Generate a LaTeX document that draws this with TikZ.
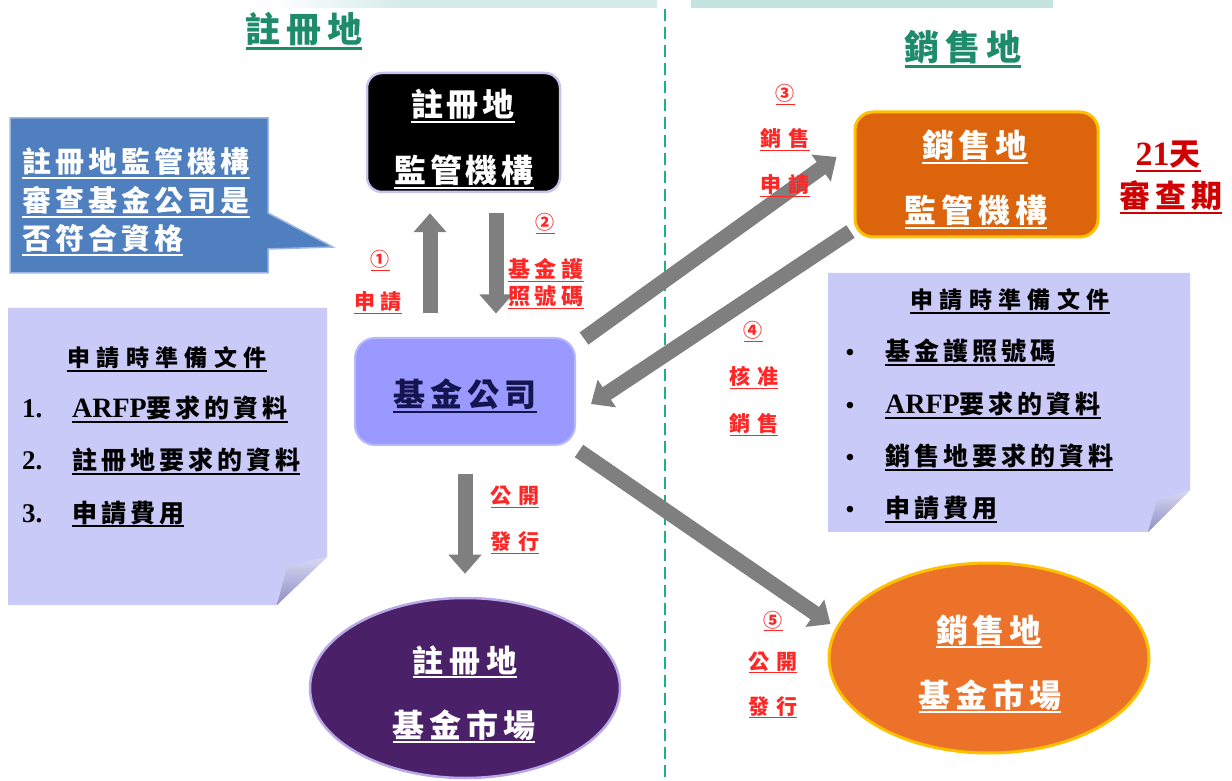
\documentclass[tikz,border=0pt]{standalone}
\usepackage{fontspec}
\setmainfont{Noto Sans CJK TC}
\newfontfamily\serifb{Liberation Serif}
\usetikzlibrary{arrows.meta,calc,shapes.geometric}
\definecolor{ttl}{HTML}{1E8C6B}
\definecolor{dashc}{HTML}{1DB085}
\definecolor{band}{HTML}{C4E4E1}
\definecolor{callb}{HTML}{4F7FBF}
\definecolor{callbd}{HTML}{9DB8E0}
\definecolor{notef}{HTML}{CACAF8}
\definecolor{flapl}{HTML}{D8D8F4}
\definecolor{flapd}{HTML}{8E8EC4}
\definecolor{fundf}{HTML}{9999FF}
\definecolor{fundd}{HTML}{B8B8FF}
\definecolor{fundt}{HTML}{141450}
\definecolor{oboxf}{HTML}{DC640C}
\definecolor{gold}{HTML}{FFC000}
\definecolor{oellf}{HTML}{EB7228}
\definecolor{purf}{HTML}{4A2068}
\definecolor{purd}{HTML}{B9A8E8}
\definecolor{regd}{HTML}{C9C3EE}
\definecolor{arrgray}{HTML}{7F7F7F}
\definecolor{lbred}{HTML}{FF2626}
\definecolor{dred}{HTML}{D00000}
\newcommand\fs[2]{\bfseries\fontsize{#1}{#1}\selectfont\addfontfeature{LetterSpace=#2}}
\newcommand\ul[2][0.06em]{\setbox0=\hbox{#2}\leavevmode\rlap{\copy0}\rule[-0.2em]{\wd0}{#1}}
\newcommand\latb[2]{{\serifb\bfseries\fontsize{#1}{#1}\selectfont #2}}
\tikzset{
  txt/.style={inner sep=0pt, anchor=base},
  txtw/.style={inner sep=0pt, anchor=base west},
  redl/.style={txt, text=lbred},
  bigarr/.style={draw=arrgray, line width=15pt, -{Triangle[width=32pt,length=19pt]}},
}
\begin{document}
\begin{tikzpicture}[x=1pt,y=1pt]
\fill[white] (0,0) rectangle (1232,780);
\useasboundingbox (0,0) rectangle (1232,780);
% top bands
\shade[left color=white, right color=band!70] (270,772) rectangle (400,780);
\fill[band!70] (400,772) rectangle (657,780);
\fill[band] (691,772) rectangle (1053,780);
% divider
\draw[dashc, line width=2.5pt, dash pattern=on 12pt off 6pt] (665,771) -- (665,0);
% titles
\node[txt, text=ttl, font=\fs{35}{17}] (t1) at (304,737) {\ul[0.09em]{註冊地}};
\node[txt, text=ttl, font=\fs{35}{17}] (t2) at (963,719) {\ul[0.09em]{銷售地}};
% callout
\fill[callb, draw=callbd, line width=1.5pt] (10,662) -- (268,662) -- (268,567) -- (333,533) -- (268,531) -- (268,507) -- (10,507) -- cycle;
\node[txtw, text=white, font=\fs{29}{14}] (c1) at (22,607) {\ul{註冊地監管機構}};
\node[txtw, text=white, font=\fs{29}{14}] (c2) at (22,568) {\ul{審查基金公司是}};
\node[txtw, text=white, font=\fs{29}{14}] (c3) at (22,530) {\ul{否符合資格}};
% left note
\fill[notef] (8,472) -- (327,472) -- (327,223) -- (277,175) -- (8,175) -- cycle;
\shade[top color=flapl, bottom color=flapd] (327,223) -- (277,175) -- (287,213) -- cycle;
\node[txt, font=\fs{23}{28}] (ln0) at (167,413) {\ul{申請時準備文件}};
\node[txtw] (ln1n) at (22,362) {\latb{27}{1.}};
\node[txtw, font=\fs{25}{16}] (ln1) at (72,362) {\ul{\latb{28}{ARFP}要求的資料}};
\node[txtw] (ln2n) at (22,310) {\latb{27}{2.}};
\node[txtw, font=\fs{25}{16}] (ln2) at (72,310) {\ul{註冊地要求的資料}};
\node[txtw] (ln3n) at (22,258) {\latb{27}{3.}};
\node[txtw, font=\fs{25}{16}] (ln3) at (72,258) {\ul{申請費用}};
% right note
\fill[notef] (828,507) -- (1190,507) -- (1190,290) -- (1148,248) -- (828,248) -- cycle;
\shade[top color=flapl, bottom color=flapd] (1190,290) -- (1148,248) -- (1157,280) -- cycle;
\node[txt, font=\fs{23}{28}] (rn0) at (1010,471) {\ul{申請時準備文件}};
\node[txt] (rb1) at (850,419) {\latb{24}{•}};
\node[txtw, font=\fs{25}{16}] (rn1) at (885,419) {\ul{基金護照號碼}};
\node[txt] (rb2) at (850,366) {\latb{24}{•}};
\node[txtw, font=\fs{25}{16}] (rn2) at (885,366) {\ul{\latb{28}{ARFP}要求的資料}};
\node[txt] (rb3) at (850,314) {\latb{24}{•}};
\node[txtw, font=\fs{25}{16}] (rn3) at (885,314) {\ul{銷售地要求的資料}};
\node[txt] (rb4) at (850,262) {\latb{24}{•}};
\node[txtw, font=\fs{25}{16}] (rn4) at (885,262) {\ul{申請費用}};
% main shapes
\node[draw=regd, line width=2.5pt, fill=black, rounded corners=15pt, minimum width=193pt, minimum height=119pt, inner sep=0pt] (reg) at (463.5,647.5) {};
\node[draw=fundd, line width=2pt, fill=fundf, rounded corners=20pt, minimum width=220pt, minimum height=107pt, inner sep=0pt] (fund) at (465,388.5) {};
\node[draw=gold, line width=3pt, fill=oboxf, rounded corners=18pt, minimum width=243pt, minimum height=125pt, inner sep=0pt] (sreg) at (976.5,605.5) {};
\node[ellipse, draw=purd, line width=2.5pt, fill=purf, minimum width=310pt, minimum height=180pt, inner sep=0pt] (rmkt) at (465,92) {};
\node[ellipse, draw=gold, line width=3pt, fill=oellf, minimum width=320pt, minimum height=190pt, inner sep=0pt] (smkt) at (989,122) {};
% texts in shapes
\node[txt, text=white, font=\fs{32}{12}] (reg1) at (463,663) {\ul{註冊地}};
\node[txt, text=white, font=\fs{32}{12}] (reg2) at (464,597) {\ul{監管機構}};
\node[txt, text=fundt, font=\fs{32}{16}] (fund1) at (465,373) {\ul{基金公司}};
\node[txt, text=white, font=\fs{32}{15}] (sreg1) at (975,622) {\ul{銷售地}};
\node[txt, text=white, font=\fs{32}{15}] (sreg2) at (976,557) {\ul{監管機構}};
\node[txt, text=white, font=\fs{31}{18}] (rmkt1) at (465,108) {\ul{註冊地}};
\node[txt, text=white, font=\fs{32}{15}] (rmkt2) at (464,43) {\ul{基金市場}};
\node[txt, text=white, font=\fs{32}{15}] (smkt1) at (989,138) {\ul{銷售地}};
\node[txt, text=white, font=\fs{32}{15}] (smkt2) at (990,73) {\ul{基金市場}};
% review period
\node[txt, text=dred, font=\fs{31}{0}] (rv1) at (1168,614) {\ul{\latb{34}{21}天}};
\node[txt, text=dred, font=\fs{31}{16}] (rv2) at (1171,572) {\ul{審查期}};
% arrows
\draw[bigarr] ($(fund.north)+(-35,23.5)$) -- ($(reg.south)+(-33.5,-20)$);
\draw[bigarr] ($(reg.south)+(32.5,-20)$) -- ($(fund.north)+(31,23.5)$);
\draw[bigarr] ($(fund.north east)+(8,-1.5)$) -- ($(sreg.west)+(-17,17.5)$);
\draw[bigarr] ($(sreg.south west)+(-3,7)$) -- ($(fund.east)+(15,-12.5)$);
\draw[bigarr] ($(fund.south east)+(3,-5)$) -- ($(smkt.west)+(3,34)$);
\draw[bigarr] ($(fund.south)+(0,-28)$) -- ($(rmkt.north)+(0,23)$);
% step labels
\node[redl, font=\fs{19}{0}] (s1a) at (380,513) {\ul{①}};
\node[redl, font=\fs{21}{28}] (s1b) at (378,470) {\ul{申請}};
\node[redl, font=\fs{19}{0}] (s2a) at (545,550) {\ul{②}};
\node[redl, font=\fs{22}{22}] (s2b) at (546,502) {\ul{基金護}};
\node[redl, font=\fs{22}{22}] (s2c) at (546,475) {\ul{照號碼}};
\node[redl, font=\fs{19}{0}] (s3a) at (785,679) {\ul{③}};
\node[redl, font=\fs{21}{35}] (s3b) at (785,633) {\ul{銷售}};
\node[redl, font=\fs{21}{35}] (s3c) at (785,587) {\ul{申請}};
\node[redl, font=\fs{19}{0}] (s4a) at (753,442) {\ul{④}};
\node[redl, font=\fs{21}{30}] (s4b) at (754,395) {\ul{核准}};
\node[redl, font=\fs{21}{30}] (s4c) at (754,348) {\ul{銷售}};
\node[redl, font=\fs{21}{30}] (p1) at (515,276) {\ul{公開}};
\node[redl, font=\fs{21}{30}] (p2) at (515,230) {\ul{發行}};
\node[redl, font=\fs{19}{0}] (s5a) at (773,153) {\ul{⑤}};
\node[redl, font=\fs{21}{30}] (s5b) at (773,111) {\ul{公開}};
\node[redl, font=\fs{21}{30}] (s5c) at (773,66) {\ul{發行}};
\end{tikzpicture}
\end{document}
